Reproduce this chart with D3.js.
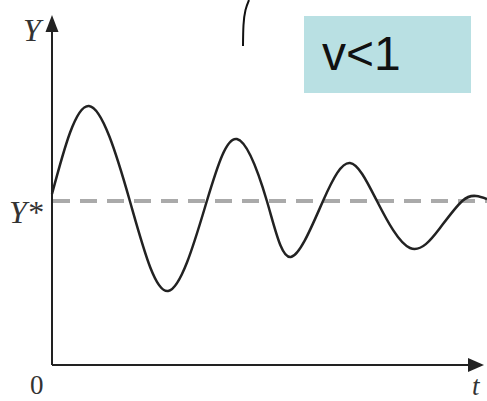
<!DOCTYPE html>
<html>
<head>
<meta charset="utf-8">
<script src="https://cdn.jsdelivr.net/npm/d3@7"></script>
<style>
  body { margin: 0; background: #fff; }
  svg { display: block; }
</style>
</head>
<body>
<div id="chart"></div>
<script>
// curve: t (0..100) and deviation from Y* (Y* = 0)
var tValues = [0, 8.5, 17.9, 26.7, 35.6, 42.5, 49.4, 54.9, 62.3, 68.5, 74.7, 82.3, 89.2, 94.3, 97.5, 100];
var yValues = [0.07, 0.95, 0, -0.90, 0, 0.62, 0, -0.56, 0, 0.38, 0, -0.47, -0.27, 0, 0.05, 0.02];
var equilibrium = 0;   // Y*
var tickLabels = { y: "Y", yStar: "Y*", origin: "0", t: "t" };
var boxText = "v<1";

var width = 487;
var height = 401;

var svg = d3.select("#chart")
    .append("svg")
    .attr("width", width)
    .attr("height", height);

var x = d3.scaleLinear().domain([0, 100]).range([52, 487]);
var y = d3.scaleLinear().domain([-1.64, 1.84]).range([365, 17]);

var data = tValues.map(function (t, i) {
    return { t: t, v: yValues[i] };
});

// dashed equilibrium line
svg.append("line")
    .attr("x1", x(0) + 1)
    .attr("x2", width)
    .attr("y1", y(equilibrium))
    .attr("y2", y(equilibrium))
    .attr("stroke", "#aaaaaa")
    .attr("stroke-width", 4)
    .attr("stroke-dasharray", "17,10");

// axes
var axisColor = "#222";
svg.append("line")
    .attr("x1", x(0)).attr("x2", x(0))
    .attr("y1", y(-1.64)).attr("y2", 30)
    .attr("stroke", axisColor).attr("stroke-width", 2);
svg.append("line")
    .attr("x1", x(0)).attr("x2", 472)
    .attr("y1", y(-1.64)).attr("y2", y(-1.64))
    .attr("stroke", axisColor).attr("stroke-width", 2);

// arrow heads
svg.append("path")
    .attr("d", "M" + x(0) + ",15 L" + (x(0) - 6.5) + ",32 L" + (x(0) + 6.5) + ",32 Z")
    .attr("fill", axisColor);
svg.append("path")
    .attr("d", "M484," + y(-1.64) + " L468," + (y(-1.64) - 7) + " L468," + (y(-1.64) + 7) + " Z")
    .attr("fill", axisColor);

// the damped oscillation
var line = d3.line()
    .x(function (d) { return x(d.t); })
    .y(function (d) { return y(d.v); })
    .curve(d3.curveNatural);

svg.append("path")
    .datum(data)
    .attr("d", line)
    .attr("fill", "none")
    .attr("stroke", "#222")
    .attr("stroke-width", 2.5);

// axis labels (serif, like the textbook figure)
var serif = "'Liberation Serif', 'DejaVu Serif', serif";
svg.append("text")
    .attr("x", 23).attr("y", 41)
    .attr("font-family", serif).attr("font-style", "italic")
    .attr("font-size", 32).attr("fill", "#333")
    .text(tickLabels.y);
svg.append("text")
    .attr("x", 9).attr("y", 223)
    .attr("font-family", serif).attr("font-style", "italic")
    .attr("font-size", 32).attr("fill", "#333")
    .text(tickLabels.yStar);
svg.append("text")
    .attr("x", 30).attr("y", 394)
    .attr("font-family", serif)
    .attr("font-size", 27).attr("fill", "#333")
    .text(tickLabels.origin);
svg.append("text")
    .attr("x", 472).attr("y", 395)
    .attr("font-family", serif).attr("font-style", "italic")
    .attr("font-size", 27).attr("fill", "#333")
    .text(tickLabels.t);

// stray bracket stroke at the top
var bracket = [[243, 46], [243.5, 25], [245.5, 10], [249, 0]];
svg.append("path")
    .attr("d", d3.line().curve(d3.curveNatural)(bracket))
    .attr("fill", "none")
    .attr("stroke", "#111")
    .attr("stroke-width", 2);

// label box
svg.append("rect")
    .attr("x", 304).attr("y", 16)
    .attr("width", 167).attr("height", 77)
    .attr("fill", "#b9e0e3");
svg.append("text")
    .attr("x", 322).attr("y", 70)
    .attr("font-family", "'Liberation Sans', Arial, sans-serif")
    .attr("font-size", 48)
    .attr("fill", "#111")
    .text(boxText);
</script>
</body>
</html>
